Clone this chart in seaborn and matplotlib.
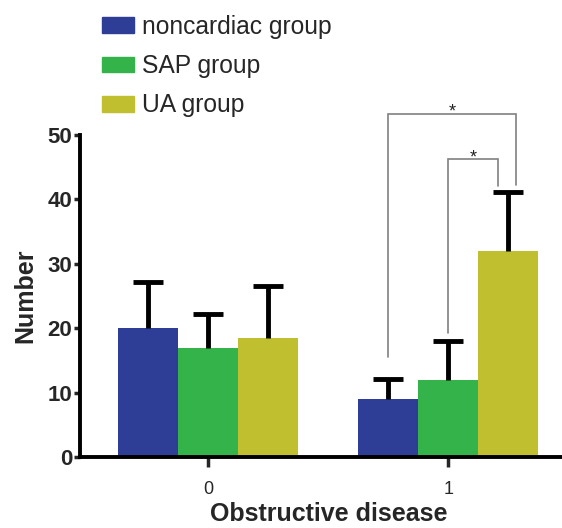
import pandas as pd
import matplotlib.pyplot as plt
import seaborn as sns
import numpy as np

sns.set_theme(style="white")
plt.rcParams['font.family'] = ['Liberation Sans', 'DejaVu Sans']

# Data
categories = ['0', '1']
groups = ['noncardiac group', 'SAP group', 'UA group']
means = {
    'noncardiac group': [20.0, 9.0],
    'SAP group': [17.0, 12.0],
    'UA group': [18.5, 32.0],
}
errors = {
    'noncardiac group': [7.1, 3.1],
    'SAP group': [5.2, 6.0],
    'UA group': [8.1, 9.1],
}
colors = ['#2E3D96', '#33B34A', '#BFBF30']
# significance brackets within category "1": (left group, right group, bracket level, left leg bottom, right leg bottom)
brackets = [
    ('noncardiac group', 'UA group', 53.2, 15.6, 42.3),
    ('SAP group', 'UA group', 46.2, 19.3, 42.1),
]

rows = []
for g in groups:
    for c, m, e in zip(categories, means[g], errors[g]):
        rows.append({'disease': c, 'group': g, 'value': m, 'err': e})
df = pd.DataFrame(rows)

fig = plt.figure(figsize=(5.62, 5.28), dpi=100)
ax = fig.add_axes([0.1423, 0.1345, 0.884, 0.6098])

sns.barplot(data=df, x='disease', y='value', hue='group', order=categories,
            hue_order=groups, palette=colors, width=0.75, gap=0, errorbar=None,
            saturation=1, linewidth=0, ax=ax, legend=False)

# bar centres per (group, category)
centers = {}
patches = [p for p in ax.patches if p.get_height() > 0]
for i, g in enumerate(groups):
    for j, c in enumerate(categories):
        p = patches[i * len(categories) + j]
        centers[(g, c)] = p.get_x() + p.get_width() / 2

# upper-only error bars
cap = 0.0625
for g in groups:
    for c, m, e in zip(categories, means[g], errors[g]):
        x = centers[(g, c)]
        ax.vlines(x, m, m + e, color='black', lw=3.5, zorder=3)
        ax.hlines(m + e, x - cap, x + cap, color='black', lw=3.5, zorder=3)

for gl, gr, level, lb, rb in brackets:
    xl = centers[(gl, '1')]
    xr = centers[(gr, '1')] + (0.033 if gl == 'noncardiac group' else -0.045)
    ax.plot([xl, xl, xr, xr], [lb, level, level, rb], color='#808080', lw=1.2,
            clip_on=False, solid_joinstyle='miter')
    ax.text((xl + xr) / 2, level - 0.4, '*', ha='center', va='baseline',
            fontsize=13, color='#222222', clip_on=False)

ax.set_xlim(-0.535, 1.535)
ax.set_ylim(0, 50)
ax.set_yticks([0, 10, 20, 30, 40, 50])
ax.set_xlabel('Obstructive disease', fontsize=18, fontweight='bold', labelpad=3)
ax.set_ylabel('Number', fontsize=18, fontweight='bold', labelpad=7)
ax.tick_params(axis='y', labelsize=16, width=2.5, length=4, direction='out', left=True, pad=1.5)
ax.tick_params(axis='x', labelsize=13, width=2.5, length=7, direction='out', bottom=True, pad=10)
for lab in ax.get_yticklabels():
    lab.set_fontweight('bold')

sns.despine(ax=ax)
for s in ['left', 'bottom']:
    ax.spines[s].set_linewidth(2.8)
    ax.spines[s].set_color('black')

handles = [plt.Rectangle((0, 0), 1, 1, color=c) for c in colors]
fig.legend(handles, groups, loc='upper left', bbox_to_anchor=(0.16, 0.995),
           frameon=False, fontsize=17.7, handlelength=1.3, handleheight=0.6,
           handletextpad=0.33, labelspacing=0.62, borderaxespad=0.1)

fig.savefig('out.png', dpi=100)
